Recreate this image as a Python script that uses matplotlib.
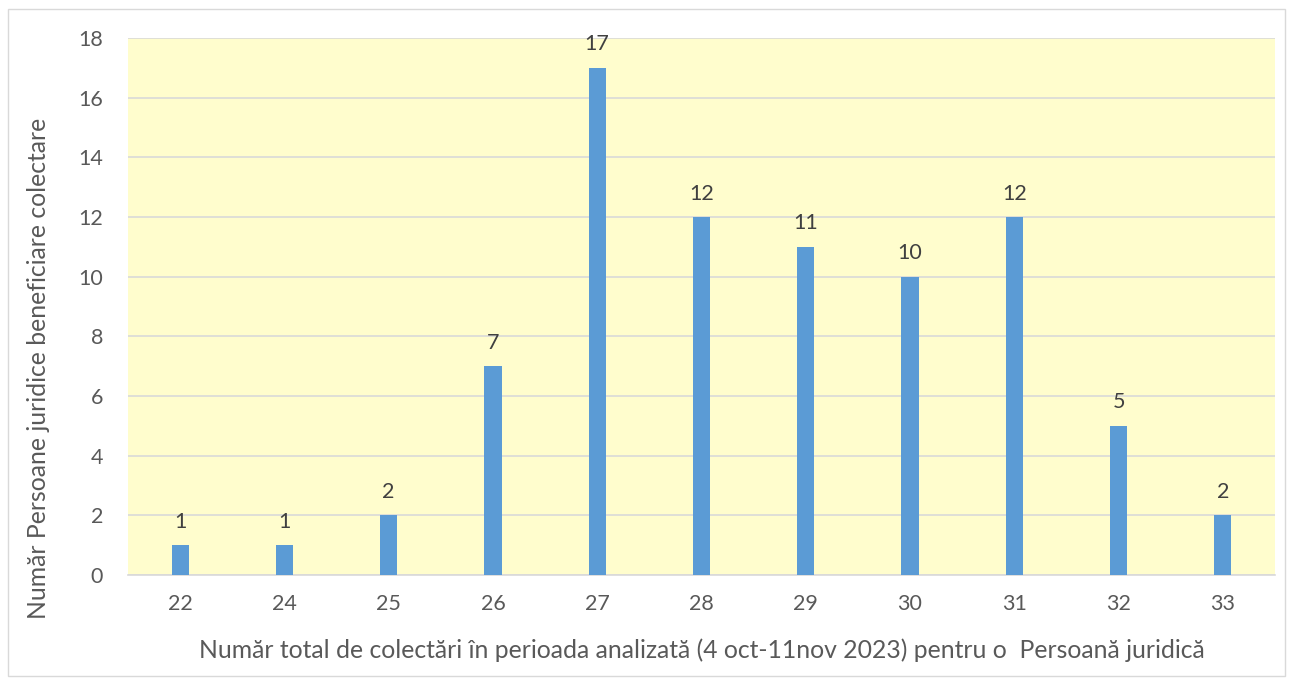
import matplotlib.pyplot as plt
from matplotlib.patches import Rectangle
import numpy as np

categories = ['22', '24', '25', '26', '27', '28', '29', '30', '31', '32', '33']
counts = [1, 1, 2, 7, 17, 12, 11, 10, 12, 5, 2]
yticks = [0, 2, 4, 6, 8, 10, 12, 14, 16, 18]

xlabel = 'Număr total de colectări în perioada analizată (4 oct-11nov 2023) pentru o  Persoană juridică'
ylabel = 'Număr Persoane juridice beneficiare colectare'

plt.rcParams['font.family'] = ['Lato', 'DejaVu Sans']

fig = plt.figure(figsize=(12.93, 6.84), dpi=100)
ax = fig.add_axes([128 / 1293, 1 - 575 / 684, (1275 - 128) / 1293, (575 - 38) / 684])

x = np.arange(len(categories))
ax.bar(x, counts, width=0.165, color='#5B9BD5', zorder=3)
for xi, v in zip(x, counts):
    ax.text(xi, v + 0.45, str(v), ha='center', va='bottom', fontsize=15.5, color='#404040')

ax.set_facecolor('#FFFDCD')
ax.set_xlim(-0.5, len(categories) - 0.5)
ax.set_ylim(0, 18)
ax.set_yticks(yticks)
ax.set_xticks(x)
ax.set_xticklabels(categories)
ax.grid(axis='y', color='#D9D9D9', linewidth=1.2, zorder=0)
ax.tick_params(length=0, labelsize=15.5, labelcolor='#595959')
ax.tick_params(axis='x', pad=14)
ax.tick_params(axis='y', pad=18)
for s in ['top', 'right', 'left']:
    ax.spines[s].set_visible(False)
ax.spines['bottom'].set_color('#D9D9D9')
ax.spines['bottom'].set_linewidth(1.2)

ax.set_xlabel(xlabel, fontsize=17.8, color='#595959', labelpad=17)
ax.set_ylabel(ylabel, fontsize=17.8, color='#595959')
ax.yaxis.set_label_coords(-0.068, 0.384)

fig.patches.append(Rectangle((8 / 1293, 1 - 676 / 684), (1285 - 8) / 1293, (676 - 9) / 684,
                             transform=fig.transFigure, fill=False, edgecolor='#D9D9D9', linewidth=1))

fig.savefig('out.png', dpi=100)
